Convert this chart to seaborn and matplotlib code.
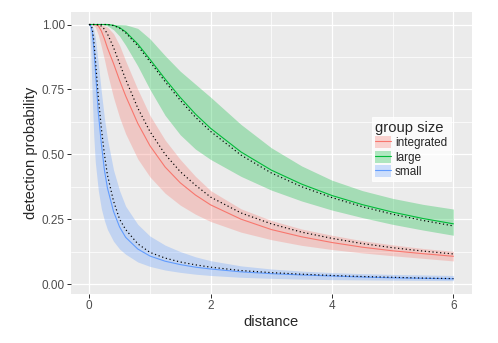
import pandas as pd
import matplotlib
matplotlib.use("Agg")
import matplotlib.pyplot as plt
from matplotlib.patches import Patch
from matplotlib.lines import Line2D
from matplotlib.ticker import MultipleLocator, FormatStrFormatter
import seaborn as sns

# distancias onde as curvas foram lidas
distance = [0, 0.025, 0.05, 0.075, 0.1, 0.15, 0.2, 0.25, 0.3, 0.4, 0.5, 0.6, 0.8,
            1.0, 1.25, 1.5, 1.75, 2.0, 2.5, 3.0, 3.5, 4.0, 4.5, 5.0, 5.5, 6.0]

groups = ["integrated", "large", "small"]
palette = {"integrated": "#F8766D", "large": "#00BA38", "small": "#619CFF"}

# integrated
integrated_fit = [1.0, 1.0, 1.0, 1.0, 1.0, 0.995, 0.975, 0.945, 0.91, 0.85, 0.785, 0.725, 0.619,
                  0.533, 0.451, 0.39, 0.343, 0.305, 0.25, 0.21, 0.182, 0.16, 0.142, 0.128, 0.117, 0.107]
integrated_lo = [1.0, 1.0, 0.998, 0.995, 0.99, 0.96, 0.914, 0.865, 0.812, 0.719, 0.642, 0.579, 0.482,
                 0.413, 0.35, 0.304, 0.269, 0.241, 0.2, 0.171, 0.149, 0.133, 0.12, 0.109, 0.099, 0.089]
integrated_hi = [1.0, 1.0, 1.0, 1.0, 1.0, 1.0, 0.999, 0.995, 0.99, 0.965, 0.92, 0.86, 0.75,
                 0.65, 0.555, 0.48, 0.415, 0.36, 0.29, 0.245, 0.212, 0.188, 0.167, 0.151, 0.137, 0.126]
integrated_dot = [1.0, 1.0, 1.0, 1.0, 1.0, 0.999, 0.994, 0.982, 0.964, 0.912, 0.85, 0.789, 0.678,
                  0.588, 0.5, 0.433, 0.381, 0.335, 0.274, 0.232, 0.2, 0.176, 0.156, 0.14, 0.127, 0.116]

# large
large_fit = [1.0, 1.0, 1.0, 1.0, 1.0, 1.0, 1.0, 1.0, 1.0, 0.997, 0.988, 0.972, 0.925,
             0.866, 0.79, 0.719, 0.655, 0.6, 0.509, 0.439, 0.385, 0.341, 0.306, 0.277, 0.2525, 0.232]
large_lo = [1.0, 1.0, 1.0, 1.0, 1.0, 1.0, 1.0, 0.998, 0.995, 0.98, 0.955, 0.92, 0.84,
            0.75, 0.65, 0.575, 0.52, 0.48, 0.415, 0.362, 0.32, 0.285, 0.256, 0.23, 0.208, 0.188]
large_hi = [1.0, 1.0, 1.0, 1.0, 1.0, 1.0, 1.0, 1.0, 1.0, 1.0, 1.0, 0.999, 0.985,
            0.945, 0.88, 0.82, 0.77, 0.72, 0.615, 0.525, 0.455, 0.4, 0.36, 0.33, 0.307, 0.289]
large_dot = [1.0, 1.0, 1.0, 1.0, 1.0, 1.0, 1.0, 1.0, 1.0, 0.996, 0.986, 0.968, 0.918,
             0.857, 0.78, 0.708, 0.643, 0.588, 0.497, 0.428, 0.375, 0.333, 0.298, 0.269, 0.245, 0.224]

# small
small_fit = [1.0, 0.995, 0.97, 0.91, 0.83, 0.66, 0.54, 0.44, 0.37, 0.28, 0.22, 0.18, 0.135,
             0.108, 0.088, 0.075, 0.065, 0.058, 0.047, 0.04, 0.035, 0.031, 0.027, 0.024, 0.022, 0.02]
small_lo = [1.0, 0.9, 0.72, 0.57, 0.47, 0.36, 0.29, 0.245, 0.21, 0.165, 0.135, 0.115, 0.085,
            0.068, 0.054, 0.045, 0.038, 0.033, 0.026, 0.022, 0.019, 0.017, 0.016, 0.015, 0.014, 0.013]
small_hi = [1.0, 1.0, 0.995, 0.98, 0.95, 0.85, 0.74, 0.64, 0.56, 0.44, 0.36, 0.3, 0.23,
            0.185, 0.15, 0.125, 0.105, 0.09, 0.07, 0.058, 0.05, 0.044, 0.04, 0.037, 0.035, 0.033]
small_dot = [1.0, 0.998, 0.985, 0.94, 0.87, 0.72, 0.6, 0.5, 0.42, 0.32, 0.25, 0.21, 0.155,
             0.122, 0.1, 0.085, 0.074, 0.065, 0.052, 0.044, 0.038, 0.033, 0.029, 0.026, 0.023, 0.021]

series = {
    "integrated": (integrated_fit, integrated_lo, integrated_hi, integrated_dot),
    "large": (large_fit, large_lo, large_hi, large_dot),
    "small": (small_fit, small_lo, small_hi, small_dot),
}

frames = []
for g in groups:
    fit, lo, hi, dot = series[g]
    frames.append(pd.DataFrame({"distance": distance, "fit": fit, "lower": lo,
                                "upper": hi, "dotted": dot, "group size": g}))
df = pd.concat(frames, ignore_index=True)

sns.set_theme(style="darkgrid", rc={
    "axes.facecolor": "#EBEBEB",
    "figure.facecolor": "white",
    "grid.color": "white",
    "xtick.bottom": True,
    "ytick.left": True,
    "xtick.major.size": 3.6,
    "ytick.major.size": 3.6,
    "xtick.major.width": 1.0,
    "ytick.major.width": 1.0,
    "xtick.color": "#333333",
    "ytick.color": "#333333",
    "xtick.labelcolor": "#4D4D4D",
    "ytick.labelcolor": "#4D4D4D",
    "xtick.major.pad": 2.5,
    "ytick.major.pad": 2.5,
})
plt.rcParams["font.family"] = ["Liberation Sans", "DejaVu Sans"]

fig = plt.figure(figsize=(498 / 72, 343 / 72), dpi=72)
ax = fig.add_axes([0.1426, 0.142, 0.8044, 0.824])

for g in groups:
    d = df[df["group size"] == g]
    ax.fill_between(d["distance"], d["lower"], d["upper"], color=palette[g],
                    alpha=0.3, linewidth=0, zorder=2)

sns.lineplot(data=df, x="distance", y="fit", hue="group size", palette=palette,
             hue_order=groups, estimator=None, linewidth=1.1, legend=False, ax=ax, zorder=3)
sns.lineplot(data=df, x="distance", y="dotted", units="group size", estimator=None,
             color="black", linestyle=(0, (1, 2.2)), linewidth=1.2, legend=False, ax=ax, zorder=4)

ax.set_xlim(-0.3, 6.3)
ax.set_ylim(-0.0395, 1.0495)
ax.xaxis.set_major_locator(MultipleLocator(2))
ax.xaxis.set_minor_locator(MultipleLocator(1))
ax.yaxis.set_major_locator(MultipleLocator(0.25))
ax.yaxis.set_minor_locator(MultipleLocator(0.125))
ax.yaxis.set_major_formatter(FormatStrFormatter("%.2f"))
ax.xaxis.set_major_formatter(FormatStrFormatter("%d"))
ax.grid(which="major", color="white", linewidth=1.3)
ax.grid(which="minor", color="white", linewidth=0.7)
ax.tick_params(which="minor", length=0)
ax.tick_params(which="major", labelsize=11.7)
for s in ax.spines.values():
    s.set_visible(False)

ax.set_xlabel("distance", fontsize=14.7, labelpad=3)
ax.set_ylabel("detection probability", fontsize=14.7, labelpad=4)

handles = [(Patch(facecolor=palette[g], alpha=0.3, linewidth=0),
            Line2D([0], [0], color=palette[g], linewidth=1.1)) for g in groups]
leg = fig.legend(handles, groups, title="group size", loc="upper left",
                 bbox_to_anchor=(0.746, 0.658), frameon=True, fancybox=False,
                 fontsize=11.7, title_fontsize=14.7, handlelength=1.4, handleheight=1.2,
                 handletextpad=0.3, labelspacing=0.12, borderpad=0.3, borderaxespad=0)
leg.get_frame().set_facecolor("white")
leg.get_frame().set_edgecolor("white")
leg._legend_box.align = "left"

fig.savefig("out.png", dpi=72)
